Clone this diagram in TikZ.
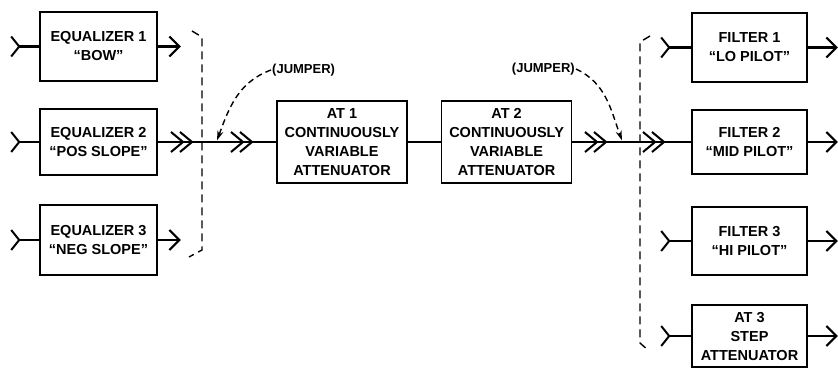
\documentclass[tikz,border=0pt]{standalone}
\usepackage{fontspec}
\setmainfont{Liberation Sans}
\usetikzlibrary{arrows.meta,positioning}
\tikzset{
      myblock/.style 2 args={
        draw,
        line width=1.6pt,
        align=center,
        inner sep=0pt,
        font=\bfseries\fontsize{14.5}{19}\selectfont,
        minimum width=#1,
        minimum height=#2
      },
      mysignal/.style={
        line width=2.6pt
      },
      myout/.style={
        mysignal,
        -{Straight Barb[length=10pt,width=20pt,line width=2pt]}
      },
      mybracket/.style={
        line width=1.4pt,
        dash pattern=on 8pt off 5pt
      },
      myjumper/.style={
        line width=1.4pt,
        dash pattern=on 6pt off 4pt,
        -{Stealth[length=10pt,width=6pt]}
      },
      mylabel/.style={
        font=\bfseries\fontsize{13}{15}\selectfont,
        inner sep=1pt
      },
      myjack/.pic={
        \draw[line width=2pt] (-8,-10) -- (0,0) -- (-8,10);
      },
      myplug/.pic={
        \draw[line width=2pt] (-21,-10) -- (-9,0) -- (-21,10)
                              (-12,-10) -- (0,0) -- (-12,10);
      },
    }
\begin{document}
\begin{tikzpicture}[x=1pt,y=-1pt,node distance=33pt]
          \useasboundingbox (0,0) rectangle (838,368);

          % equalizers
          \node[myblock={117pt}{69pt}] (eq1) at (98.5,46.5)
            {EQUALIZER 1\\“BOW”};
          \node[myblock={117pt}{66pt}] (eq2) at (98.5,142)
            {EQUALIZER 2\\“POS SLOPE”};
          \node[myblock={117pt}{70pt}] (eq3) at (98.5,240)
            {EQUALIZER 3\\“NEG SLOPE”};

          % attenuators
          \node[myblock={130pt}{82pt}] (at1) at (342,142)
            {AT 1\\CONTINUOUSLY\\VARIABLE\\ATTENUATOR};
          \node[myblock={130pt}{82pt},right=of at1] (at2)
            {AT 2\\CONTINUOUSLY\\VARIABLE\\ATTENUATOR};

          % filters
          \node[myblock={115pt}{69pt}] (fil1) at (749.5,47.5)
            {FILTER 1\\“LO PILOT”};
          \node[myblock={115pt}{64pt}] (fil2) at (749.5,142)
            {FILTER 2\\“MID PILOT”};
          \node[myblock={115pt}{68pt}] (fil3) at (749.5,241)
            {FILTER 3\\“HI PILOT”};
          \node[myblock={115pt}{62pt}] (at3) at (749.5,336)
            {AT 3\\STEP\\ATTENUATOR};

          % jumper labels
          \node[mylabel,anchor=west] (jump1) at (271,70) {(JUMPER)};
          \node[mylabel,anchor=east] (jump2) at (576,69) {(JUMPER)};

          \coordinate (in1) at ([xshift=-20pt]eq1.west);
          \coordinate (in2) at ([xshift=-20pt]eq2.west);
          \coordinate (in3) at ([xshift=-20pt]eq3.west);
          \coordinate (out1) at ([xshift=23pt]eq1.east);
          \coordinate (out3) at ([xshift=23pt]eq3.east);

          \coordinate (fin1) at ([xshift=-22pt]fil1.west);
          \coordinate (fin3) at ([xshift=-22pt]fil3.west);
          \coordinate (fin4) at ([xshift=-22pt]at3.west);
          \coordinate (fout1) at ([xshift=30pt]fil1.east);
          \coordinate (fout2) at ([xshift=30pt]fil2.east);
          \coordinate (fout3) at ([xshift=30pt]fil3.east);
          \coordinate (fout4) at ([xshift=30pt]at3.east);

          \coordinate (jt1) at (217,140.5);
          \coordinate (jt2) at (622,140.5);

          % inputs and outputs
          \foreach \n in {1,2,3}{
            \draw[mysignal] (in\n) -- (eq\n.west);
            \pic at (in\n) {myjack};
          }
          \draw[myout] (eq1.east) -- (out1);
          \draw[myout] (eq3.east) -- (out3);

          \draw[mysignal] (fin1) -- (fil1.west);
          \draw[mysignal] (fin3) -- (fil3.west);
          \draw[mysignal] (fin4) -- (at3.west);
          \foreach \c in {fin1,fin3,fin4}{
            \pic at (\c) {myjack};
          }
          \draw[myout] (fil1.east) -- (fout1);
          \draw[myout] (fil2.east) -- (fout2);
          \draw[myout] (fil3.east) -- (fout3);
          \draw[myout] (at3.east) -- (fout4);

          % main line
          \draw[mysignal] (eq2) -- (at1);
          \draw[mysignal] (at1) -- (at2);
          \draw[mysignal] (at2) -- (fil2);
          \pic at (192,142) {myplug};
          \pic at (252,142) {myplug};
          \pic at (606,142) {myplug};
          \pic at (664,142) {myplug};

          % brackets
          \draw[mybracket] (192,31) -- (202,37) -- (202,250) -- (189,257);
          \draw[mybracket] (650,36) -- (640,42) -- (640,343) -- (649,351);

          % jumpers
          \draw[myjumper] (jump1.west) to[out=200,in=70] (jt1);
          \draw[myjumper] (jump2.east) to[out=-25,in=110] (jt2);
\end{tikzpicture}
\end{document}
